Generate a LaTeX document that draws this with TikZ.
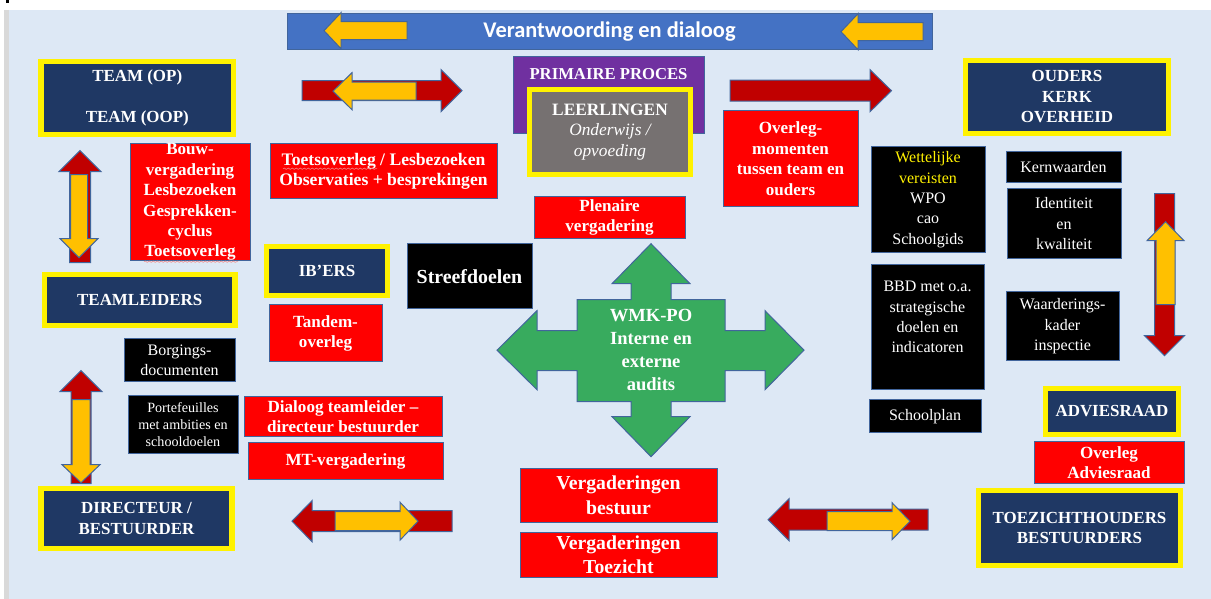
\documentclass[tikz,border=0pt]{standalone}
\usepackage{fontspec}
\setmainfont{Liberation Serif}
\newfontfamily\bannerfont{Carlito}
\usetikzlibrary{decorations.pathmorphing}
\definecolor{pagebg}{HTML}{DDE8F5}
\definecolor{edge}{HTML}{41659C}
\definecolor{navy}{HTML}{1F3864}
\definecolor{ared}{HTML}{C00000}
\definecolor{ayel}{HTML}{FFC000}
\definecolor{banner}{HTML}{4472C4}
\definecolor{purp}{HTML}{7030A0}
\definecolor{greyb}{HTML}{767171}
\definecolor{greenb}{HTML}{38AB5E}
\definecolor{wavy}{HTML}{F08A8A}
\newcommand\fs[2]{\fontsize{#1}{#2}\selectfont}
\tikzset{
 base/.style={inner sep=0pt,align=center,text=white,line width=.75pt},
 redbox/.style={base,fill=red,draw=edge,font=\fs{12.8}{15.3}\bfseries},
 blackbox/.style={base,fill=black,draw=edge,font=\fs{12}{15.3}},
 navybox/.style={base,fill=navy,draw=yellow,line width=3.9pt,font=\fs{12.7}{15.3}\bfseries},
 redarrow/.style={fill=ared,draw=edge,line width=.75pt,line join=miter},
 yelarrow/.style={fill=ayel,draw=edge,line width=.75pt,line join=miter},
}
% name, x0,y0,x1,y1, style, text
\newcommand\bx[7]{\node[#6,minimum width={(#4-#2)*0.75pt},minimum height={(#5-#3)*0.75pt}] (#1) at ({(#2+#4)/2},{(#3+#5)/2}) {#7};}
% tip x, base x, end x, centre y, head half, shaft half, style
\newcommand\harrow[7]{\draw[#7] (#1,#4) -- (#2,#4-#5) -- (#2,#4-#6) -- (#3,#4-#6) -- (#3,#4+#6) -- (#2,#4+#6) -- (#2,#4+#5) -- cycle;}
% tip y, base y, end y, centre x, head half, shaft half, style
\newcommand\varrow[7]{\draw[#7] (#4,#1) -- (#4-#5,#2) -- (#4-#6,#2) -- (#4-#6,#3) -- (#4+#6,#3) -- (#4+#6,#2) -- (#4+#5,#2) -- cycle;}
\begin{document}
\begin{tikzpicture}[x=.75pt,y=-.75pt]
\useasboundingbox (0,-0.7) rectangle (1211,598.3);
\fill[white] (0,-0.7) rectangle (1211,598.3);
\fill[black!15] (4,9.5) rectangle (9,598.3);
\fill[pagebg] (9,9.5) rectangle (1211,598.3);
\fill[black] (6,-0.7) rectangle (9,2);
% banner
\bx{banner}{287}{13}{932}{49}{base,fill=banner,draw=edge,font=\fs{16.8}{18}\bannerfont\bfseries}{Verantwoording en dialoog}
\harrow{324}{341}{407}{30}{18}{9}{yelarrow}
\harrow{841}{858}{923}{31}{18}{9}{yelarrow}
% navy boxes
\bx{team}{41}{61}{233.5}{134}{navybox}{TEAM (OP)\\[15.3pt]TEAM (OOP)}
\bx{teamleiders}{44.5}{273.5}{235}{324.5}{navybox}{TEAMLEIDERS}
\bx{ibers}{266.5}{245.5}{387.5}{294.5}{navybox}{IB’ERS}
\bx{directeur}{41}{487.5}{232}{548}{navybox}{DIRECTEUR /\\BESTUURDER}
\bx{ouders}{965.5}{59.5}{1168.5}{132.5}{navybox}{OUDERS\\KERK\\OVERHEID}
\bx{adviesraad}{1045.5}{387.5}{1178.5}{433.5}{navybox}{ADVIESRAAD}
\bx{toezicht}{978.5}{489.5}{1180.5}{564.5}{navybox}{TOEZICHTHOUDERS\\BESTUURDERS}
% primary process
\bx{primaire}{513}{56}{704}{133}{base,fill=purp,draw=edge}{}
\node[base,font=\fs{12.5}{15.3}\bfseries] (primairetxt) at (608.5,73) {PRIMAIRE PROCES};
\bx{leerlingen}{529.5}{89}{690.5}{173.5}{navybox,fill=greyb,font=\fs{13}{15.3}\bfseries}{LEERLINGEN\\\normalfont\itshape Onderwijs /\\\normalfont\itshape opvoeding}
% red boxes
\bx{bouw}{130}{143}{250}{260}{redbox}{Bouw-\\vergadering\\Lesbezoeken\\Gesprekken-\\cyclus\\Toetsoverleg}
\bx{toets}{270}{143}{497}{198}{redbox,font=\fs{13.2}{15.3}\bfseries}{Toetsoverleg / Lesbezoeken\\Observaties + besprekingen}
\bx{tandem}{269}{304}{382}{361}{redbox}{Tandem-\\overleg}
\bx{dialoog}{244}{396}{442}{436}{redbox}{Dialoog teamleider –\\directeur bestuurder}
\bx{mt}{248}{442}{443}{479}{redbox}{MT-vergadering}
\bx{plenaire}{534}{196}{685}{238}{redbox}{Plenaire\\vergadering}
\bx{overleg}{723}{110}{858}{206}{redbox}{Overleg-\\momenten\\tussen team en\\ouders}
\bx{overlegadv}{1034}{441}{1184}{483}{redbox}{Overleg\\Adviesraad}
\bx{vbestuur}{520}{468}{717}{522}{redbox,font=\fs{14.8}{18.8}\bfseries}{Vergaderingen\\bestuur}
\bx{vtoezicht}{520}{532}{717}{577}{redbox,font=\fs{14.8}{18}\bfseries}{Vergaderingen\\Toezicht}
% wavy spell-check underlines
\draw[wavy,line width=.4pt,decorate,decoration={snake,amplitude=.5pt,segment length=3pt}] (283,168) -- (377,168);
\draw[wavy,line width=.4pt,decorate,decoration={snake,amplitude=.5pt,segment length=3pt}] (144,261) -- (238,261);
% black boxes
\bx{streef}{407}{243}{532}{308}{blackbox,font=\fs{14.9}{15}\bfseries}{Streefdoelen}
\bx{borg}{124}{338}{235}{381}{blackbox}{Borgings-\\documenten}
\bx{porte}{128}{395}{238}{453}{blackbox,font=\fs{10.6}{13}}{Portefeuilles\\met ambities en\\schooldoelen}
\bx{wet}{871}{146}{985}{252}{blackbox}{\textcolor{yellow}{Wettelijke}\\\textcolor{yellow}{vereisten}\\WPO\\cao\\Schoolgids}
\bx{kern}{1006}{151}{1121}{182}{blackbox}{Kernwaarden}
\bx{ident}{1007}{188}{1121}{258}{blackbox}{Identiteit\\en\\kwaliteit}
\bx{bbd}{871}{264}{984}{389}{blackbox}{BBD met o.a.\\strategische\\doelen en\\indicatoren\\~}
\bx{waard}{1006}{291}{1119}{360}{blackbox}{Waarderings-\\kader\\inspectie}
\bx{schoolplan}{869}{399}{981}{432}{blackbox}{Schoolplan}
% red/yellow arrows
\harrow{462}{441}{302}{90}{21}{10}{redarrow}
\harrow{333}{352}{416}{90.5}{18.5}{9}{yelarrow}
\harrow{891.5}{870}{730}{90}{21}{10.5}{redarrow}
\harrow{292}{312}{452}{520.5}{20.5}{10.5}{redarrow}
\harrow{418}{400}{335}{520.5}{19}{9.5}{yelarrow}
\harrow{768}{789}{928}{519}{21}{10.5}{redarrow}
\harrow{910}{892}{827}{520.5}{18.5}{9.5}{yelarrow}
\varrow{150}{171}{262}{80}{21}{10.5}{redarrow}
\varrow{257}{238}{174}{79}{19}{8.5}{yelarrow}
\varrow{370}{391}{483}{81}{21}{10}{redarrow}
\varrow{482}{464}{399}{81}{19}{9}{yelarrow}
\varrow{355}{335}{193}{1164.5}{20}{10}{redarrow}
\varrow{221}{240}{304}{1165.5}{18.5}{9.5}{yelarrow}
% WMK cross
\draw[fill=greenb,draw=edge,line width=.75pt]
 (651,243) -- (690,283) -- (671,283) -- (671,299) -- (725,299) -- (725,330) -- (765,330) -- (765,310)
 -- (804,349.5) -- (765,389) -- (765,370) -- (725,370) -- (725,401) -- (671,401) -- (671,416) -- (690,416)
 -- (651,456) -- (612,416) -- (631,416) -- (631,401) -- (577,401) -- (577,370) -- (537,370) -- (537,389)
 -- (497,349.5) -- (537,310) -- (537,330) -- (577,330) -- (577,299) -- (631,299) -- (631,283) -- (612,283) -- cycle;
\node[base,font=\fs{13.9}{17.2}\bfseries] (wmk) at (651,349.5) {WMK-PO\\Interne en\\externe\\audits};
\end{tikzpicture}
\end{document}
